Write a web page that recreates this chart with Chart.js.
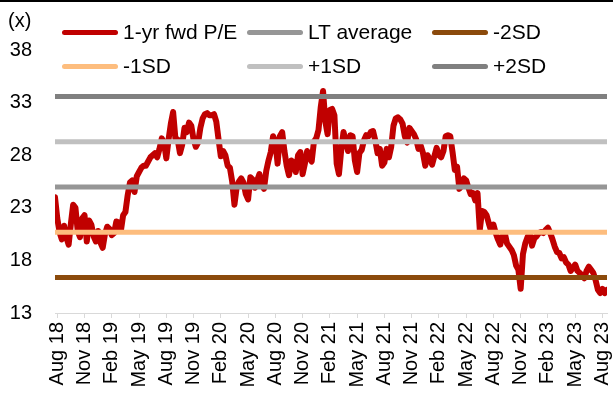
<!DOCTYPE html>
<html>
<head>
<meta charset="utf-8">
<script src="https://cdn.jsdelivr.net/npm/chart.js@4/dist/chart.umd.min.js"></script>
<style>
  html, body { margin: 0; padding: 0; background: #fff; }
  #wrap { position: relative; width: 613px; height: 394px; overflow: hidden;
          font-family: "Liberation Sans", Arial, sans-serif; color: #000; }
  #topRule { position: absolute; left: 0; top: 0; width: 613px; height: 2px; background: #000; }
  #unit { position: absolute; left: 8px; top: 8px; font-size: 20px; line-height: 24px; }
  #legend { position: absolute; left: 62px; top: 15px; display: grid;
            grid-template-columns: repeat(3, 185px); grid-auto-rows: 34px; }
  .item { display: flex; align-items: center; font-size: 21px; white-space: nowrap; }
  .swatch { width: 56px; height: 5px; border-radius: 3px; margin-right: 5px; flex: none; }
  canvas { position: absolute; left: 0; top: 0; }
</style>
</head>
<body>
<div id="wrap">
  <canvas id="c" width="613" height="394"></canvas>
  <div id="topRule"></div>
  <div id="unit">(x)</div>
  <div id="legend"></div>
</div>
<script>
// Quarterly date ticks on the x axis (x = months since Aug 2018)
const tickLabels = ['Aug 18', 'Nov 18', 'Feb 19', 'May 19', 'Aug 19', 'Nov 19', 'Feb 20',
  'May 20', 'Aug 20', 'Nov 20', 'Feb 21', 'May 21', 'Aug 21', 'Nov 21', 'Feb 22',
  'May 22', 'Aug 22', 'Nov 22', 'Feb 23', 'May 23', 'Aug 23'];
const monthsPerTick = 3;

// Weekly 1-yr forward P/E readings; first reading falls a week before Aug 2018
const firstReadingMonth = -0.25;
const monthsPerReading = 0.25;
const peAug18toJul19 = [
  24.0, 22.0, 20.7, 20.0, 21.3, 20.2, 19.5, 21.5, 23.3, 23.0,
  20.8, 20.2, 22.0, 22.3, 19.8, 21.8, 21.4, 20.3, 19.8, 20.8,
  19.7, 19.2, 20.5, 21.2, 21.0, 20.4, 20.6, 21.7, 21.6, 20.8,
  22.3, 22.6, 24.2, 25.4, 25.6, 24.5, 26.0, 26.4, 26.8, 27.0,
  27.0, 27.4, 27.8, 28.0, 28.2, 27.8, 28.6, 29.6, 29.2];
const peAug19toJul20 = [
  27.7, 29.5, 31.0, 32.1, 29.6, 29.5, 28.2, 29.0,
  30.6, 30.2, 31.1, 30.8, 29.5, 28.8, 29.2, 30.6,
  31.5, 31.9, 32.0, 31.8, 31.8, 31.9, 31.2, 29.5,
  27.9, 28.4, 28.0, 27.0, 26.8, 25.5, 23.3, 25.0,
  25.5, 25.8, 25.4, 24.3, 23.8, 25.9, 25.7, 24.9,
  25.6, 26.2, 25.2, 24.8, 26.5, 27.5, 28.3, 29.8];
const peAug20toJul21 = [
  29.3, 27.2, 29.8, 30.2, 28.4, 27.0, 26.1, 27.5,
  27.3, 26.4, 28.0, 28.3, 26.2, 27.2, 28.4, 27.8,
  27.4, 29.3, 29.6, 30.4, 32.6, 34.1, 31.2, 30.0,
  32.3, 32.4, 31.8, 27.2, 26.2, 28.5, 30.2, 29.3,
  28.4, 29.9, 29.8, 27.5, 26.4, 28.2, 28.5, 29.4,
  29.9, 29.8, 30.2, 30.3, 29.4, 28.2, 28.6, 27.0];
const peAug21toJul22 = [
  27.3, 28.6, 27.8, 28.8, 30.8, 31.5, 31.6, 31.4,
  31.0, 29.8, 29.2, 30.6, 30.3, 30.0, 29.5, 28.6,
  28.9, 28.2, 27.0, 28.0, 27.6, 27.1, 27.9, 28.7,
  28.0, 27.8, 28.4, 29.8, 29.9, 29.8, 28.3, 26.6,
  26.9, 24.8, 25.1, 25.8, 25.6, 24.9, 24.3, 24.4,
  23.7, 24.4, 20.9, 22.7, 22.6, 22.3, 21.5, 20.8];
const peAug22toAug23 = [
  21.4, 20.6, 20.0, 19.5, 20.3, 20.6, 19.6, 19.3,
  19.0, 18.5, 17.5, 17.1, 15.3, 18.6, 19.6, 20.2,
  20.6, 19.4, 20.1, 20.3, 20.6, 20.7, 20.6, 20.9,
  21.1, 20.6, 20.0, 19.3, 18.8, 18.7, 18.2, 18.3,
  17.8, 17.6, 17.0, 17.3, 17.6, 17.0, 16.8, 16.6,
  16.3, 17.0, 17.4, 17.1, 16.8, 16.1, 15.2, 14.9,
  15.3, 14.9, 15.2];

// Long-term average and standard-deviation bands
const ltAverage = 24.97;
const minus2SD = 16.37;
const minus1SD = 20.67;
const plus1SD = 29.27;
const plus2SD = 33.57;

// Y axis range
const yMin = 13, yMax = 38, yStep = 5;

const peValues = [].concat(peAug18toJul19, peAug19toJul20, peAug20toJul21,
                           peAug21toJul22, peAug22toAug23);
const pePoints = peValues.map((v, i) => ({ x: firstReadingMonth + i * monthsPerReading, y: v }));
const xStart = pePoints[0].x;
const xEnd = pePoints[pePoints.length - 1].x;
const flat = v => [{ x: xStart, y: v }, { x: xEnd, y: v }];

const bandStyle = (label, value, color) => ({
  label, data: flat(value), borderColor: color, backgroundColor: color,
  borderWidth: 5, borderCapStyle: 'round', pointRadius: 0, order: 1
});

const datasets = [
  { label: '1-yr fwd P/E', data: pePoints, borderColor: '#C00000', backgroundColor: '#C00000',
    borderWidth: 6, borderJoinStyle: 'round', borderCapStyle: 'round',
    pointRadius: 0, tension: 0, order: 5 },
  bandStyle('LT average', ltAverage, '#969696'),
  bandStyle('-2SD', minus2SD, '#8B4A0C'),
  bandStyle('-1SD', minus1SD, '#FDBD7E'),
  bandStyle('+1SD', plus1SD, '#C0C0C0'),
  bandStyle('+2SD', plus2SD, '#808080')
];

const axisFont = { family: '"Liberation Sans", Arial, sans-serif', size: 20 };

new Chart(document.getElementById('c'), {
  type: 'line',
  data: { datasets },
  options: {
    responsive: false,
    animation: false,
    events: [],
    layout: { padding: { top: 50, right: 6, left: 0, bottom: 0 } },
    plugins: { legend: { display: false }, tooltip: { enabled: false } },
    scales: {
      x: {
        type: 'linear', min: xStart, max: xEnd,
        afterBuildTicks: s => { s.ticks = tickLabels.map((_, i) => ({ value: i * monthsPerTick })); },
        afterFit: s => { s.height = 81; s.paddingLeft = 0; s.paddingRight = 0; },
        ticks: {
          autoSkip: false, minRotation: 90, maxRotation: 90, padding: 4,
          color: '#000', font: axisFont,
          callback: v => tickLabels[Math.round(v / monthsPerTick)]
        },
        grid: { display: true, drawOnChartArea: false, drawTicks: true, tickLength: 5,
                color: '#D9D9D9', lineWidth: 1 },
        border: { display: true, color: '#D9D9D9', width: 1 }
      },
      y: {
        min: yMin, max: yMax,
        afterFit: s => { s.width = 55; },
        ticks: { stepSize: yStep, padding: 23, color: '#000', font: axisFont },
        grid: { display: false, drawTicks: false },
        border: { display: false }
      }
    }
  }
});

// Legend in three columns
const legendEl = document.getElementById('legend');
datasets.forEach(ds => {
  const item = document.createElement('div');
  item.className = 'item';
  const sw = document.createElement('span');
  sw.className = 'swatch';
  sw.style.background = ds.borderColor;
  const tx = document.createElement('span');
  tx.textContent = ds.label;
  item.appendChild(sw);
  item.appendChild(tx);
  legendEl.appendChild(item);
});
</script>
</body>
</html>
